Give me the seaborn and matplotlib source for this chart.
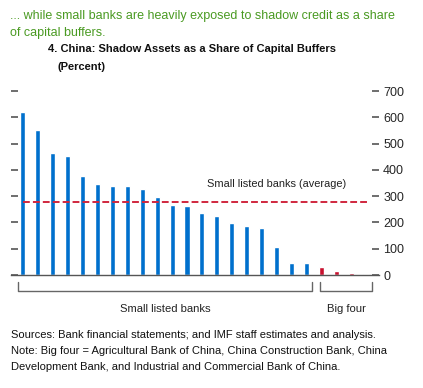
import matplotlib
matplotlib.use("Agg")
import matplotlib.pyplot as plt
import seaborn as sns
import pandas as pd
import numpy as np

sns.set_theme(style="white")
plt.rcParams["font.family"] = ["Liberation Sans", "DejaVu Sans"]

# ---- data ----
small_values = [620, 551, 463, 452, 375, 345, 337, 337, 326, 295,
                265, 261, 234, 223, 196, 188, 177, 108, 47, 47]
big_values = [32, 17, 9, 5]
average_small = 276
y_ticks = [0, 100, 200, 300, 400, 500, 600, 700]
group_labels = ["Small listed banks", "Big four"]

values = small_values + big_values
groups = [group_labels[0]] * len(small_values) + [group_labels[1]] * len(big_values)
df = pd.DataFrame({"bank": [f"b{i}" for i in range(len(values))],
                   "value": values, "group": groups})

BLUE = "#0070cd"
RED = "#c8102e"
GREEN = "#4a9a22"

fig = plt.figure(figsize=(4.23, 3.88), dpi=100)
W, H = 423, 388
ax = fig.add_axes([11 / W, 1 - 275 / H, (379 - 11) / W, (275 - 91) / H])

sns.barplot(data=df, x="bank", y="value", hue="group",
            palette={group_labels[0]: BLUE, group_labels[1]: RED},
            width=0.34, dodge=False, legend=False, ax=ax, saturation=1)

n = len(values)
ax.set_xlim(-0.8, n - 1 + 0.87)
ax.set_ylim(0, 700)
ax.axhline(average_small, xmin=0.033, xmax=0.967, color="#d0273e",
           ls=(0, (3.5, 1.6)), lw=1.4)
ax.text(12.35, average_small + 52, "Small listed banks (average)",
        fontsize=7.9, ha="left", va="bottom", color="#222222")

for s in ["top", "left", "right"]:
    ax.spines[s].set_visible(False)
ax.spines["bottom"].set_color("#555555")
ax.spines["bottom"].set_linewidth(1.0)
ax.set_xticks([])
ax.set_xlabel("")
ax.set_ylabel("")
ax.set_yticks(y_ticks)
ax.tick_params(axis="y", which="both", left=True, right=True,
               labelleft=False, labelright=True, direction="in",
               length=5, width=1.2, color="#555555", labelsize=9, pad=3)
ax.grid(False)

def bracket(x0, x1, label):
    y0, y1 = 282, 291
    fx = lambda p: p / W
    fy = lambda p: 1 - p / H
    fig.add_artist(plt.Line2D([fx(x0), fx(x0), fx(x1), fx(x1)],
                              [fy(y0), fy(y1), fy(y1), fy(y0)],
                              color="#666666", lw=1.0))
    fig.text(fx((x0 + x1) / 2), fy(309), label, ha="center", va="center",
             fontsize=8.1, color="#222222")

bracket(18, 312, group_labels[0])
bracket(320, 372, group_labels[1])

fig.text(10 / W, 1 - 24.5 / H,
         "... while small banks are heavily exposed to shadow credit as a share\nof capital buffers.",
         fontsize=9.0, color=GREEN, ha="left", va="center", linespacing=1.45)
fig.text(48 / W, 1 - 49 / H, "4. China: Shadow Assets as a Share of Capital Buffers",
         fontsize=8.0, fontweight="bold", ha="left", va="center", color="#111111")
fig.text(57 / W, 1 - 67 / H, "(Percent)",
         fontsize=8.0, fontweight="bold", ha="left", va="center", color="#111111")
fig.text(11 / W, 1 - 351 / H,
         "Sources: Bank financial statements; and IMF staff estimates and analysis.\n"
         "Note: Big four = Agricultural Bank of China, China Construction Bank, China\n"
         "Development Bank, and Industrial and Commercial Bank of China.",
         fontsize=8.0, ha="left", va="center", color="#111111", linespacing=1.7)

fig.savefig("out.png", dpi=100)
